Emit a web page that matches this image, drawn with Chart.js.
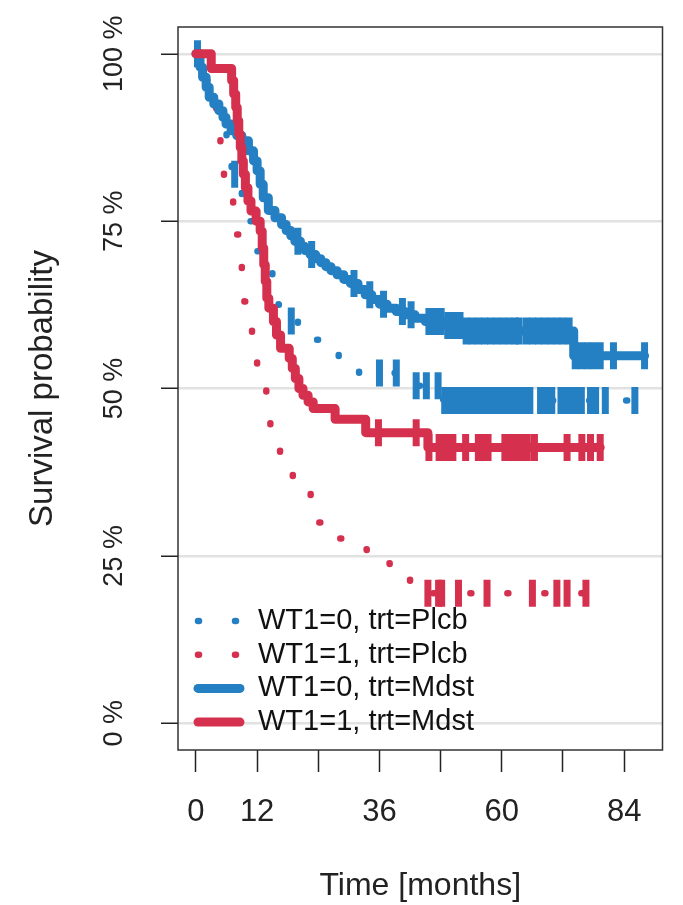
<!DOCTYPE html>
<html>
<head>
<meta charset="utf-8">
<script src="https://cdn.jsdelivr.net/npm/chart.js@4/dist/chart.umd.min.js"></script>
<style>
  html, body { margin: 0; padding: 0; background: #fff; }
  canvas { display: block; }
</style>
</head>
<body>
<canvas id="km-chart" width="683" height="905"></canvas>
<script>
//axis setup
const X_TICKS = [0, 12, 24, 36, 48, 60, 72, 84];
const X_TICK_LABELS = ['0', '12', '', '36', '', '60', '', '84'];
const Y_TICKS = [0, 25, 50, 75, 100];

//legend text, same order as the reference
const LEGEND_LABELS = ['WT1=0, trt=Plcb', 'WT1=1, trt=Plcb', 'WT1=0, trt=Mdst', 'WT1=1, trt=Mdst'];

const BLUE = '#2480c2';
const RED = '#d5304e';
const FONT = "'Liberation Sans', Arial, sans-serif";
const NARROW_FONT = "'Liberation Sans Narrow', 'Arial Narrow', 'Liberation Sans', sans-serif";

//WT1=0, trt=Plcb (step times in months, survival in %)
const PLCB0_TIME = [0, 1.0, 2.0, 3.0, 4.0, 5.0, 6.0, 7.0, 8.2, 9.0, 10.0, 11.0, 12.0, 13.5, 15.0, 16.2, 17.5, 20.0, 22.5, 25.0, 28.0, 32.0, 41.5, 43.0, 48.5, 86.1];
const PLCB0_SURV = [100, 98, 96, 94, 92, 90, 86.5, 82, 79.5, 77, 75, 72.5, 70.5, 68.5, 65, 62.5, 60.1, 58.5, 57.3, 55.5, 54.2, 52.3, 51.2, 50.4, 48.2, 48.2];
const PLCB0_CENS_TIME = [7.6, 18.7, 36.0, 39.3, 43.2, 45.2, 47.5, 48.8, 50.0, 51.2, 52.3, 53.4, 54.5, 55.6, 56.7, 57.8, 58.9, 60.0, 61.1, 62.2, 63.3, 64.4, 65.5, 67.6, 68.7, 69.8, 71.6, 72.6, 73.6, 74.6, 75.6, 77.4, 78.4, 80.3, 86.1];
const PLCB0_CENS_SURV = [82, 60.1, 52.3, 52.3, 50.4, 50.4, 50.4, 48.2, 48.2, 48.2, 48.2, 48.2, 48.2, 48.2, 48.2, 48.2, 48.2, 48.2, 48.2, 48.2, 48.2, 48.2, 48.2, 48.2, 48.2, 48.2, 48.2, 48.2, 48.2, 48.2, 48.2, 48.2, 48.2, 48.2, 48.2];

//WT1=1, trt=Plcb
const PLCB1_TIME = [0, 1.0, 2.0, 3.0, 4.0, 4.8, 5.5, 6.5, 7.3, 7.9, 8.5, 9.0, 9.5, 10.2, 11.0, 12.0, 13.0, 13.8, 14.6, 15.4, 16.5, 17.5, 19.0, 21.2, 22.5, 24.0, 26.2, 29.0, 31.2, 33.5, 35.5, 38.0, 39.7, 42.0, 76.5];
const PLCB1_SURV = [100, 98, 96, 93, 88, 84, 81.5, 79, 76.5, 73, 70, 67, 63, 60, 57, 53.5, 50.5, 47, 44, 41.2, 39, 37.3, 36, 34.8, 32, 30, 27.6, 26.7, 26, 25, 23.9, 22.5, 21.6, 19.4, 19.4];
const PLCB1_CENS_TIME = [45.5, 47.6, 48.2, 51.5, 57.1, 66.0, 70.8, 72.8, 76.5];
const PLCB1_CENS_SURV = [19.4, 19.4, 19.4, 19.4, 19.4, 19.4, 19.4, 19.4, 19.4];

//WT1=0, trt=Mdst
const MDST0_TIME = [0, 0.8, 1.3, 2.0, 2.6, 3.5, 4.5, 5.3, 5.9, 6.9, 8.0, 9.0, 10.3, 11.3, 12.0, 12.6, 13.2, 14.2, 15.5, 16.8, 17.7, 18.6, 19.4, 20.5, 21.4, 22.4, 23.5, 24.5, 25.5, 26.5, 27.7, 29.0, 30.3, 31.8, 33.2, 34.5, 36.0, 37.5, 39.3, 41.0, 43.0, 45.0, 49.0, 53.0, 74.1, 88.0];
const MDST0_SURV = [100, 98, 96.5, 95, 93.5, 92.5, 91.5, 90.5, 89.5, 88.5, 87.8, 87, 85.5, 84, 82.5, 80.5, 78.5, 76.6, 75.5, 74.5, 73.6, 72.8, 72, 71.2, 70.6, 70, 69.4, 68.8, 68.2, 67.6, 67.0, 66.3, 65.7, 64.8, 64.0, 63.3, 62.6, 62.0, 61.5, 61.0, 60.5, 60.0, 59.4, 58.6, 54.9, 54.9];
const MDST0_CENS_TIME = [0.3, 20.0, 22.7, 31.0, 34.1, 36.8, 40.5, 42.2, 45.7, 46.9, 48.1, 49.4, 50.6, 51.8, 53.0, 54.2, 55.4, 56.6, 57.8, 59.0, 60.2, 61.4, 62.6, 63.4, 64.8, 66.0, 67.2, 68.4, 69.6, 70.8, 72.0, 73.2, 74.4, 75.6, 76.8, 78.0, 79.3, 81.9, 88.0];
const MDST0_CENS_SURV = [100, 72, 70, 65.7, 64.0, 62.6, 61.5, 61.0, 60.0, 60.0, 60.0, 59.4, 59.4, 59.4, 58.6, 58.6, 58.6, 58.6, 58.6, 58.6, 58.6, 58.6, 58.6, 58.6, 58.6, 58.6, 58.6, 58.6, 58.6, 58.6, 58.6, 58.6, 54.9, 54.9, 54.9, 54.9, 54.9, 54.9, 54.9];

//WT1=1, trt=Mdst
const MDST1_TIME = [0, 3.0, 7.0, 7.4, 7.8, 8.1, 8.4, 8.7, 9.0, 9.3, 9.7, 10.2, 10.8, 11.8, 12.6, 13.0, 13.3, 13.6, 13.9, 14.3, 15.2, 15.8, 16.6, 18.3, 18.9, 19.5, 20.2, 21.0, 22.0, 23.0, 27.3, 33.3, 45.5, 79.3];
const MDST1_SURV = [100, 97.8, 96, 94, 92, 90, 88, 86, 84, 82, 80, 78, 76.5, 75, 73.5, 71, 68.5, 66, 63.5, 62, 60, 58, 56, 54.5, 53, 51.5, 50, 49, 48, 47, 45.4, 43.4, 41.2, 41.2];
const MDST1_CENS_TIME = [35.8, 43.2, 45.7, 47.7, 48.6, 49.5, 50.4, 52.9, 55.4, 56.3, 57.3, 60.6, 61.5, 62.4, 63.2, 63.9, 65.0, 66.4, 72.8, 75.7, 77.4, 79.3];
const MDST1_CENS_SURV = [43.4, 43.4, 41.2, 41.2, 41.2, 41.2, 41.2, 41.2, 41.2, 41.2, 41.2, 41.2, 41.2, 41.2, 41.2, 41.2, 41.2, 41.2, 41.2, 41.2, 41.2, 41.2];


function toPoints(times, values) {
    return times.map((t, i) => ({x: t, y: values[i]}));
}

function curveDataset(label, color, times, surv, dotted) {
    return {
        label: label,
        data: toPoints(times, surv),
        borderColor: color,
        backgroundColor: color,
        borderWidth: dotted ? 6.5 : 9,
        borderDash: dotted ? [1, 36] : [],
        borderCapStyle: 'round',
        borderJoinStyle: 'round',
        stepped: 'before',
        tension: 0,
        fill: false,
        pointRadius: 0,
        pointHoverRadius: 0,
    };
}

function censorDataset(color, times, surv) {
    return {
        label: '',
        data: toPoints(times, surv),
        showLine: false,
        pointStyle: 'line',
        pointRotation: 90,
        pointRadius: 13.5,
        pointHoverRadius: 13.5,
        pointBorderWidth: 7,
        pointBorderColor: color,
        pointBackgroundColor: color,
    };
}

//box around the plot region
const plotBox = {
    id: 'plotBox',
    afterDatasetsDraw(chart) {
        const {ctx, chartArea} = chart;
        ctx.save();
        ctx.strokeStyle = '#333';
        ctx.lineWidth = 1.5;
        ctx.strokeRect(chartArea.left, chartArea.top, chartArea.right - chartArea.left, chartArea.bottom - chartArea.top);
        ctx.restore();
    }
};

//legend in the lower left corner, drawn like the R legend (no frame)
const curveLegend = {
    id: 'curveLegend',
    afterDraw(chart) {
        const ctx = chart.ctx;
        ctx.save();
        ctx.font = '29px ' + FONT;
        ctx.textBaseline = 'middle';
        ctx.textAlign = 'left';
        LEGEND_LABELS.forEach((text, i) => {
            const ds = chart.data.datasets.find(d => d.label === text);
            const y = 621 + i * 33.7;
            ctx.strokeStyle = ds.borderColor;
            ctx.lineWidth = ds.borderWidth;
            ctx.lineCap = 'round';
            ctx.setLineDash(ds.borderDash);
            ctx.beginPath();
            ctx.moveTo(198, y);
            ctx.lineTo(240, y);
            ctx.stroke();
            ctx.setLineDash([]);
            ctx.fillStyle = '#111';
            ctx.fillText(text, 258, y);
        });
        ctx.restore();
    }
};

function createSurvivalChart() {
    //first dataset is drawn on top
    const datasets = [
        censorDataset(RED, MDST1_CENS_TIME, MDST1_CENS_SURV),
        curveDataset(LEGEND_LABELS[3], RED, MDST1_TIME, MDST1_SURV, false),
        censorDataset(BLUE, MDST0_CENS_TIME, MDST0_CENS_SURV),
        curveDataset(LEGEND_LABELS[2], BLUE, MDST0_TIME, MDST0_SURV, false),
        censorDataset(RED, PLCB1_CENS_TIME, PLCB1_CENS_SURV),
        curveDataset(LEGEND_LABELS[1], RED, PLCB1_TIME, PLCB1_SURV, true),
        censorDataset(BLUE, PLCB0_CENS_TIME, PLCB0_CENS_SURV),
        curveDataset(LEGEND_LABELS[0], BLUE, PLCB0_TIME, PLCB0_SURV, true),
    ];

    return new Chart(document.getElementById('km-chart'), {
        type: 'line',
        data: {datasets: datasets},
        plugins: [plotBox, curveLegend],
        options: {
            responsive: false,
            animation: false,
            events: [],
            layout: {
                padding: {top: 27, right: 13, left: 0, bottom: 0}
            },
            plugins: {
                legend: {display: false},
                tooltip: {enabled: false}
            },
            scales: {
                x: {
                    type: 'linear',
                    min: -3.52,
                    max: 91.52,
                    afterBuildTicks: axis => { axis.ticks = X_TICKS.map(v => ({value: v})); },
                    afterFit: axis => { axis.height = 155; },
                    border: {display: false},
                    grid: {
                        drawOnChartArea: false,
                        drawTicks: true,
                        tickLength: 22,
                        tickColor: '#222',
                        tickWidth: 1.5
                    },
                    ticks: {
                        autoSkip: false,
                        maxRotation: 0,
                        padding: 22,
                        color: '#222',
                        font: {family: FONT, size: 31},
                        callback: (value, index) => X_TICK_LABELS[index]
                    },
                    title: {
                        display: true,
                        text: 'Time [months]',
                        color: '#222',
                        font: {family: FONT, size: 32},
                        padding: {top: 0, bottom: 0}
                    }
                },
                y: {
                    type: 'linear',
                    min: -4,
                    max: 104,
                    afterBuildTicks: axis => { axis.ticks = Y_TICKS.map(v => ({value: v})); },
                    afterFit: axis => { axis.width = 178; },
                    border: {display: false},
                    grid: {
                        color: '#e2e2e2',
                        lineWidth: 2.5,
                        drawTicks: true,
                        tickLength: 17,
                        tickColor: '#222',
                        tickWidth: 1.5
                    },
                    ticks: {
                        minRotation: 90,
                        maxRotation: 90,
                        crossAlign: 'center',
                        padding: 8,
                        color: '#222',
                        font: {family: NARROW_FONT, size: 27},
                        callback: value => value + ' %'
                    },
                    title: {
                        display: true,
                        text: 'Survival probability',
                        color: '#222',
                        font: {family: FONT, size: 33},
                        padding: {top: 23, bottom: 0}
                    }
                }
            }
        }
    });
}

createSurvivalChart();
</script>
</body>
</html>
